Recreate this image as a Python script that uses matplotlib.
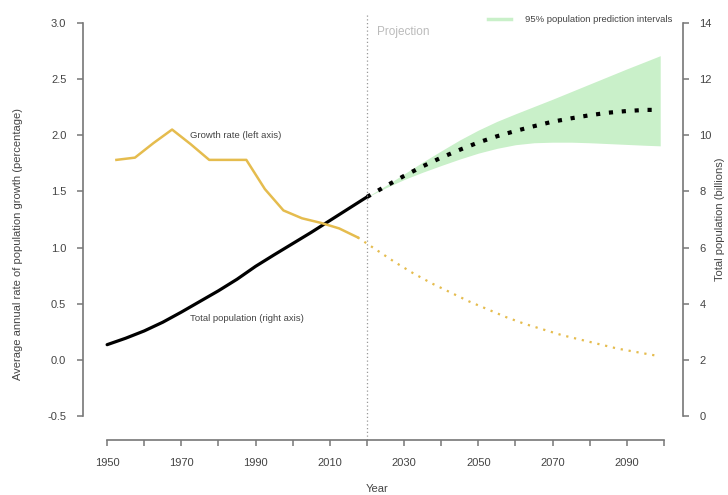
import matplotlib
matplotlib.use('Agg')
import matplotlib.pyplot as plt
from matplotlib.lines import Line2D

plt.rcParams['font.family'] = ['Liberation Sans', 'DejaVu Sans']

# growth rate, % per year, plotted at period midpoints
gr_years = [1952.5, 1957.5, 1962.5, 1967.5, 1972.5, 1977.5, 1982.5, 1987.5,
            1992.5, 1997.5, 2002.5, 2007.5, 2012.5, 2017.5]
gr_values = [1.78, 1.80, 1.93, 2.05, 1.92, 1.78, 1.78, 1.78,
             1.52, 1.33, 1.26, 1.22, 1.17, 1.09]
gr_proj_years = [2017.5, 2022.5, 2027.5, 2032.5, 2037.5, 2042.5, 2047.5, 2052.5, 2057.5,
                 2062.5, 2067.5, 2072.5, 2077.5, 2082.5, 2087.5, 2092.5, 2097.5]
gr_proj_values = [1.09, 0.98, 0.87, 0.77, 0.68, 0.60, 0.52, 0.45, 0.38,
                  0.32, 0.27, 0.22, 0.18, 0.14, 0.10, 0.07, 0.04]

# total population, billions
pop_years = [1950, 1955, 1960, 1965, 1970, 1975, 1980, 1985, 1990,
             1995, 2000, 2005, 2010, 2015, 2020]
pop_values = [2.54, 2.77, 3.03, 3.34, 3.70, 4.08, 4.46, 4.87, 5.33,
              5.74, 6.14, 6.54, 6.96, 7.38, 7.80]
proj_years = [2020, 2025, 2030, 2035, 2040, 2045, 2050, 2055, 2060,
              2065, 2070, 2075, 2080, 2085, 2090, 2095, 2098]
proj_values = [7.80, 8.18, 8.55, 8.89, 9.20, 9.48, 9.74, 9.96, 10.15,
               10.32, 10.48, 10.60, 10.71, 10.80, 10.86, 10.90, 10.90]
band_years = [2020, 2025, 2030, 2035, 2040, 2045, 2050, 2055, 2060,
              2065, 2070, 2075, 2080, 2085, 2090, 2095, 2099]
band_low = [7.79, 8.12, 8.42, 8.68, 8.92, 9.15, 9.36, 9.53, 9.66,
            9.73, 9.75, 9.75, 9.73, 9.70, 9.67, 9.64, 9.62]
band_high = [7.80, 8.20, 8.62, 9.04, 9.44, 9.83, 10.18, 10.49, 10.76,
             11.02, 11.28, 11.55, 11.82, 12.09, 12.36, 12.62, 12.83]

gold = '#E5BC4E'
green = '#C9F0C9'
axis_col = '#777777'
text_col = '#444444'

fig = plt.figure(figsize=(7.28, 4.95), dpi=100)
ax = fig.add_axes([0.114, 0.111, 0.824, 0.859])
ax2 = ax.twinx()
ax.set_zorder(2)
ax.patch.set_visible(False)

ylo, yhi = -0.714, 3.071
ax.set_xlim(1943.5, 2105.1)
ax.set_ylim(ylo, yhi)
ax2.set_ylim((ylo + 0.5) * 4, (yhi + 0.5) * 4)

# population on the right axis
ax2.fill_between(band_years, band_low, band_high, color=green, lw=0)
ax2.plot(pop_years, pop_values, color='black', lw=2.3, solid_capstyle='round')
ax2.plot(proj_years, proj_values, color='black', lw=3, linestyle=(0, (1, 2.1)))

# growth rate on the left axis
ax.plot(gr_years, gr_values, color=gold, lw=1.8)
ax.plot(gr_proj_years, gr_proj_values, color=gold, lw=1.6, linestyle=(0, (1, 2.6)))

ax.axvline(2020, color='#999999', lw=0.9, linestyle=(0, (1, 2)))
ax.text(2022.7, 2.92, 'Projection', color='#BBBBBB', fontsize=8.5, va='center')
ax.text(1972.4, 2.0, 'Growth rate (left axis)', color=text_col, fontsize=6.8, va='center')
ax.text(1972.4, 0.37, 'Total population (right axis)', color=text_col, fontsize=6.8, va='center')

leg = ax.legend(handles=[Line2D([], [], color=green, lw=2.5)],
                labels=['95% population prediction intervals'],
                loc='center right', bbox_to_anchor=(0.99, 0.988), frameon=False,
                fontsize=6.8, handlelength=2.4, handletextpad=1.5, borderpad=0)
for t in leg.get_texts():
    t.set_color(text_col)

# spines in R style
for a in (ax, ax2):
    for s in a.spines.values():
        s.set_visible(False)
ax.spines['left'].set_visible(True)
ax.spines['left'].set_bounds(-0.5, 3.0)
ax.spines['bottom'].set_visible(True)
ax.spines['bottom'].set_bounds(1950, 2100)
ax2.spines['right'].set_visible(True)
ax2.spines['right'].set_bounds(0, 14)
for s in (ax.spines['left'], ax.spines['bottom'], ax2.spines['right']):
    s.set_color(axis_col)
    s.set_linewidth(1.2)

ax.set_yticks([-0.5, 0, 0.5, 1.0, 1.5, 2.0, 2.5, 3.0])
ax.set_yticklabels(['-0.5', '0.0', '0.5', '1.0', '1.5', '2.0', '2.5', '3.0'])
xt = list(range(1950, 2101, 10))
ax.set_xticks(xt)
ax.set_xticklabels([str(y) if (y - 1950) % 20 == 0 and y < 2100 else '' for y in xt])
ax2.set_yticks(range(0, 15, 2))

ax.tick_params(axis='both', colors=axis_col, labelcolor=text_col, labelsize=8,
               length=4, width=1.1, direction='out')
ax.tick_params(axis='y', pad=8)
ax.tick_params(axis='x', pad=9)
ax2.tick_params(axis='y', colors=axis_col, labelcolor=text_col, labelsize=8,
                length=4, width=1.1, direction='out', pad=8)

ax.set_ylabel('Average annual rate of population growth (percentage)',
              fontsize=8, color=text_col)
ax.yaxis.set_label_coords(-0.1, 0.46)
ax2.set_ylabel('Total population (billions)', fontsize=8, color=text_col, rotation=90)
ax2.yaxis.set_label_coords(1.054, 0.52)
ax.set_xlabel('Year', fontsize=8, color=text_col)
ax.xaxis.set_label_coords(0.49, -0.104)

fig.savefig('out.png', dpi=100)
